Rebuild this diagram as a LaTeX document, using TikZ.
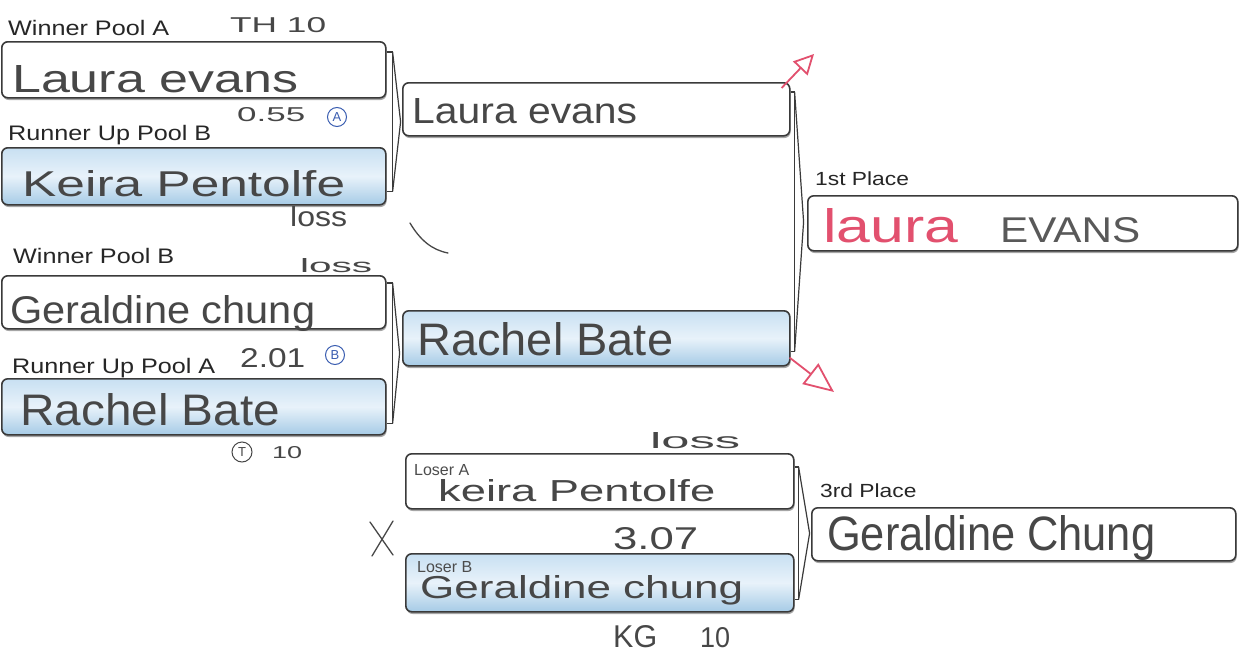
\documentclass[tikz,border=0pt]{standalone}
\usepackage{fontspec}
\usepackage{graphicx}
\setmainfont{Liberation Sans}
\newfontfamily\handfont{Liberation Sans}
\usetikzlibrary{shadows,arrows.meta,calc}
\definecolor{bord}{HTML}{3A3A3A}
\definecolor{ink}{HTML}{474747}
\definecolor{pen}{HTML}{E2506E}
\definecolor{blA}{HTML}{C8E0F2}
\definecolor{blB}{HTML}{E8F2FA}
\definecolor{blC}{HTML}{A6CBE6}
\definecolor{circ}{HTML}{3A5DB0}
\newcommand\hw[3]{\resizebox{#1pt}{#2pt}{\handfont #3}}
\newcommand\lbl[2]{\scalebox{1.2}[1]{\fontsize{#1}{#1}\selectfont #2}}
\tikzset{
  box/.style={draw=bord, line width=1.6pt, rounded corners=6pt, inner sep=0pt,
    anchor=north west, fill=white,
    drop shadow={shadow xshift=0.8pt, shadow yshift=-2.2pt, opacity=0.35, fill=black}},
  bluebox/.style={box, top color=blA, bottom color=blC, middle color=blB},
  lab/.style={anchor=base west, inner sep=0pt, text=black!85},
  hand/.style={anchor=base west, inner sep=0pt, text=ink},
  brk/.style={draw=bord, line width=1.2pt, line join=miter},
  inkline/.style={draw=ink, line width=1.3pt, line cap=round},
  ring/.style={circle, draw=circ, text=circ, line width=1pt, inner sep=0pt,
    minimum size=19pt, font=\fontsize{13}{13}\selectfont},
  redarrow/.style={draw=pen, line width=1.8pt}
}
\begin{document}
\begin{tikzpicture}[x=1pt, y=-1pt]
\useasboundingbox[fill=white] (0,0) rectangle (1245,653);

% boxes
\node[box, minimum width=384pt, minimum height=56pt] (b1) at (1,41) {};
\node[bluebox, minimum width=384pt, minimum height=57pt] (b2) at (1,147) {};
\node[box, minimum width=384pt, minimum height=53pt] (b3) at (1,275) {};
\node[bluebox, minimum width=384pt, minimum height=56pt] (b4) at (1,378) {};
\node[box, minimum width=387pt, minimum height=53pt] (m1) at (402,82) {};
\node[bluebox, minimum width=387pt, minimum height=55pt] (m2) at (402,310) {};
\node[box, minimum width=388pt, minimum height=55pt] (la) at (405,453) {};
\node[bluebox, minimum width=388pt, minimum height=58pt] (lb) at (405,553) {};
\node[box, minimum width=430pt, minimum height=55pt] (f1) at (807,195) {};
\node[box, minimum width=424pt, minimum height=53pt] (f3) at (811,507) {};

% brackets
\draw[brk] ([yshift=-11pt]b1.north east) -- ++(6,0) -- ([xshift=6pt,yshift=14pt]b2.south east) -- ([yshift=14pt]b2.south east);
\draw[brk] ([xshift=6pt,yshift=-11pt]b1.north east) -- ($([xshift=14pt,yshift=-11pt]b1.north east)!0.5!([xshift=14pt,yshift=14pt]b2.south east)$) -- ([xshift=6pt,yshift=14pt]b2.south east);

\draw[brk] ([yshift=-8pt]b3.north east) -- ++(6,0) -- ([xshift=6pt,yshift=12pt]b4.south east) -- ([yshift=12pt]b4.south east);
\draw[brk] ([xshift=6pt,yshift=-8pt]b3.north east) -- ($([xshift=13pt,yshift=-8pt]b3.north east)!0.5!([xshift=13pt,yshift=12pt]b4.south east)$) -- ([xshift=6pt,yshift=12pt]b4.south east);

\draw[brk] ([yshift=-10pt]m1.north east) -- ++(4,0) -- ([xshift=4pt,yshift=15pt]m2.south east) -- ([yshift=15pt]m2.south east);
\draw[brk] ([xshift=4pt,yshift=-10pt]m1.north east) -- ($([xshift=13pt,yshift=-10pt]m1.north east)!0.5!([xshift=13pt,yshift=15pt]m2.south east)$) -- ([xshift=4pt,yshift=15pt]m2.south east);

\draw[brk] ([yshift=-14pt]la.north east) -- ++(4,0) -- ([xshift=4pt,yshift=13pt]lb.south east) -- ([yshift=13pt]lb.south east);
\draw[brk] ([xshift=4pt,yshift=-14pt]la.north east) -- ($([xshift=15pt,yshift=-14pt]la.north east)!0.5!([xshift=15pt,yshift=13pt]lb.south east)$) -- ([xshift=4pt,yshift=13pt]lb.south east);

% printed labels
\node[lab] (tWA) at (8,35) {\lbl{21}{Winner Pool A}};
\node[lab] (tRB) at (8,140) {\lbl{21}{Runner Up Pool B}};
\node[lab] (tWB) at (13,263) {\lbl{21}{Winner Pool B}};
\node[lab] (tRA) at (12,373) {\lbl{21}{Runner Up Pool A}};
\node[lab] (t1) at (815,185) {\lbl{19}{1st Place}};
\node[lab] (t3) at (820,497) {\lbl{19}{3rd Place}};
\node[lab, text=black!70] (tLA) at (414,475) {\fontsize{16}{16}\selectfont Loser A};
\node[lab, text=black!70] (tLB) at (417,572) {\fontsize{16}{16}\selectfont Loser B};

% handwritten names
\node[hand] (n1) at (12,92) {\hw{286}{27}{Laura evans}};
\node[hand] (n2) at (22,196) {\hw{323}{26}{Keira Pentolfe}};
\node[hand] (n3) at (10,323) {\hw{305}{28}{Geraldine chung}};
\node[hand] (n4) at (20,425) {\hw{260}{32}{Rachel Bate}};
\node[hand] (n5) at (412,123) {\hw{225}{25}{Laura evans}};
\node[hand] (n6) at (417,355) {\hw{256}{33}{Rachel Bate}};
\node[hand, text=pen] (n7) at (823,242) {\hw{135}{34}{laura}};
\node[hand, text=black!65] (n8) at (1000,242) {\hw{140}{25}{EVANS}};
\node[hand] (n9) at (438,501) {\hw{277}{22}{keira Pentolfe}};
\node[hand] (n10) at (420,598) {\hw{323}{23}{Geraldine chung}};
\node[hand] (n11) at (827,550) {\hw{328}{35}{Geraldine Chung}};

% handwritten notes
\node[hand] (a1) at (230,33) {\hw{96}{15}{TH 10}};
\node[hand] (a2) at (237,121) {\hw{68}{14}{0.55}};
\node[ring] (cA) at (337,117) {A};
\node[hand] (a3) at (290,226) {\hw{57}{20}{loss}};
\node[hand] (a4) at (300,272) {\hw{72}{14}{loss}};
\node[hand] (a5) at (240,367) {\hw{65}{19}{2.01}};
\node[ring] (cB) at (335,355) {B};
\node[ring, draw=ink, text=ink, minimum size=20pt] (cT) at (242,452) {T};
\node[hand] (a6) at (272,458) {\hw{30}{12}{10}};
\node[hand] (a7) at (650,448) {\hw{90}{16}{loss}};
\node[hand] (a8) at (613,549) {\hw{85}{22}{3.07}};
\node[hand] (a9) at (613,647) {\hw{44}{22}{KG}};
\node[hand] (a10) at (700,647) {\hw{30}{20}{10}};

\draw[inkline] (410,223) .. controls (420,240) and (432,250) .. (448,253);
\draw[inkline] (370,522) -- (393,555);
\draw[inkline] (393,521) -- (372,556);

% red arrows
\coordinate (r1) at (814,54);
\coordinate (r2) at (834,392);
\draw[redarrow, -{Triangle[open, length=20pt, width=20pt]}] ([xshift=-9pt,yshift=-6pt]m1.north east) -- (r1);
\draw[redarrow, -{Triangle[open, length=30pt, width=26pt]}] ([xshift=-1pt,yshift=9pt]m2.south east) -- (r2);
\end{tikzpicture}
\end{document}
